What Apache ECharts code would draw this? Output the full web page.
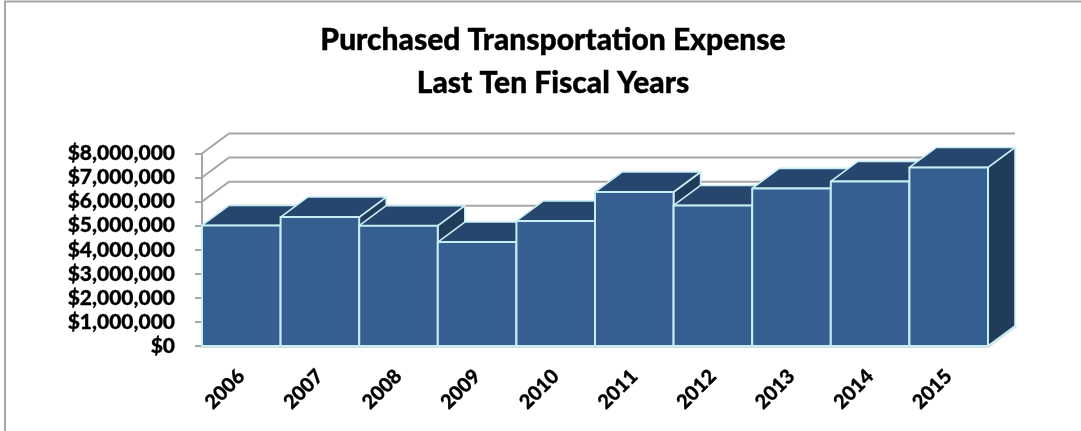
<!DOCTYPE html>
<html>
<head>
<meta charset="utf-8">
<style>
  html, body { margin: 0; padding: 0; background: #fff; }
  #chart { width: 1081px; height: 431px; }
</style>
<script src="https://cdn.jsdelivr.net/npm/echarts@6/dist/echarts.min.js"></script>
</head>
<body>
<div id="chart"></div>
<script>
// Purchased transportation expense, fiscal years 2006-2015
const years = ['2006', '2007', '2008', '2009', '2010', '2011', '2012', '2013', '2014', '2015'];
const expense = [5010000, 5360000, 5000000, 4320000, 5200000, 6400000, 5840000, 6550000, 6840000, 7420000];
const gridLevels = [1000000, 2000000, 3000000, 4000000, 5000000, 6000000, 7000000, 8000000];
const titleLines = ['Purchased Transportation Expense', 'Last Ten Fiscal Years'];

// Oblique projection used for the box depth
const DEPTH_X = 27;
const DEPTH_Y = -20;
const FONT = 'Lato, "Open Sans", sans-serif';

function polygon(points, fill, stroke, lineWidth) {
  return {
    type: 'polygon',
    shape: { points },
    style: { fill, stroke, lineWidth, lineJoin: 'round' }
  };
}

// One box: side and top faces behind the front face
function renderBox(params, api) {
  const top = api.coord([api.value(0), api.value(1)]);
  const base = api.coord([api.value(0), 0]);
  const half = api.size([1, 0])[0] / 2;
  const l = top[0] - half, r = top[0] + half;
  const edge = '#c8eef4';
  return {
    type: 'group',
    children: [
      polygon([[r, top[1]], [r + DEPTH_X, top[1] + DEPTH_Y], [r + DEPTH_X, base[1] + DEPTH_Y], [r, base[1]]], '#213c5b', edge, 1.6),
      polygon([[l, top[1]], [l + DEPTH_X, top[1] + DEPTH_Y], [r + DEPTH_X, top[1] + DEPTH_Y], [r, top[1]]], '#26466d', edge, 1.6),
      polygon([[l, top[1]], [r, top[1]], [r, base[1]], [l, base[1]]], '#365f91', edge, 2)
    ]
  };
}

// Back-wall gridline with its slanted run on the side wall
function renderWallLine(params, api) {
  const y = api.coord([0, api.value(0)])[1];
  const cs = params.coordSys;
  return {
    type: 'polyline',
    shape: {
      points: [[cs.x, y], [cs.x + DEPTH_X, y + DEPTH_Y], [cs.x + cs.width + DEPTH_X, y + DEPTH_Y]]
    },
    style: { fill: 'none', stroke: '#a6a6a6', lineWidth: 2 }
  };
}

// Floor outline under the boxes
function renderFloor(params, api) {
  const y = api.coord([0, 0])[1] + 1;
  const cs = params.coordSys;
  return {
    type: 'polygon',
    shape: {
      points: [[cs.x, y], [cs.x + DEPTH_X, y + DEPTH_Y], [cs.x + cs.width + DEPTH_X, y + DEPTH_Y], [cs.x + cs.width, y]]
    },
    style: { fill: '#fff', stroke: '#d9d9d9', lineWidth: 2 }
  };
}

const heavyTitle = {
  fontFamily: FONT, fontWeight: 900, fontSize: 30, color: '#000',
  textBorderColor: '#000', textBorderWidth: 0.4
};

const chart = echarts.init(document.getElementById('chart'), null, { renderer: 'canvas' });
chart.setOption({
  animation: false,
  backgroundColor: '#fff',
  graphic: [{
    type: 'polyline',
    silent: true,
    shape: { points: [[5, 431], [5, 1.5], [1081, 1.5]] },
    style: { fill: 'none', stroke: '#a6a6a6', lineWidth: 2 }
  }],
  title: [
    { text: titleLines[0], left: 548, top: 20, textAlign: 'center', textStyle: heavyTitle },
    { text: titleLines[1], left: 548, top: 63, textAlign: 'center', textStyle: heavyTitle }
  ],
  grid: { left: 202, right: 93, top: 153.5, height: 192.5, containLabel: false },
  xAxis: {
    type: 'category',
    data: years,
    axisLine: { show: false },
    axisTick: { show: false },
    axisLabel: {
      rotate: 45, interval: 0, margin: 27, color: '#000',
      fontFamily: FONT, fontWeight: 900, fontSize: 20,
      textBorderColor: '#000', textBorderWidth: 0.3
    }
  },
  yAxis: {
    type: 'value',
    min: 0,
    max: 8000000,
    interval: 1000000,
    axisLine: { show: true, lineStyle: { color: '#a6a6a6', width: 2 } },
    axisTick: { show: true, length: 7, lineStyle: { color: '#a6a6a6', width: 2 } },
    splitLine: { show: false },
    axisLabel: {
      margin: 27, color: '#000', fontFamily: FONT, fontWeight: 900, fontSize: 21,
      textBorderColor: '#000', textBorderWidth: 0.3, padding: [6, 0, 0, 0],
      formatter: v => '$' + v.toLocaleString('en-US')
    }
  },
  series: [
    { type: 'custom', renderItem: renderFloor, data: [[0]], silent: true, z: 1,
      encode: { y: 0 } },
    { type: 'custom', renderItem: renderWallLine, data: gridLevels.map(v => [v]), silent: true, z: 2,
      encode: { y: 0 } },
    { type: 'custom', renderItem: renderBox, z: 3,
      data: expense.map((v, i) => [i, v]),
      encode: { x: 0, y: 1 } }
  ]
});
</script>
</body>
</html>
